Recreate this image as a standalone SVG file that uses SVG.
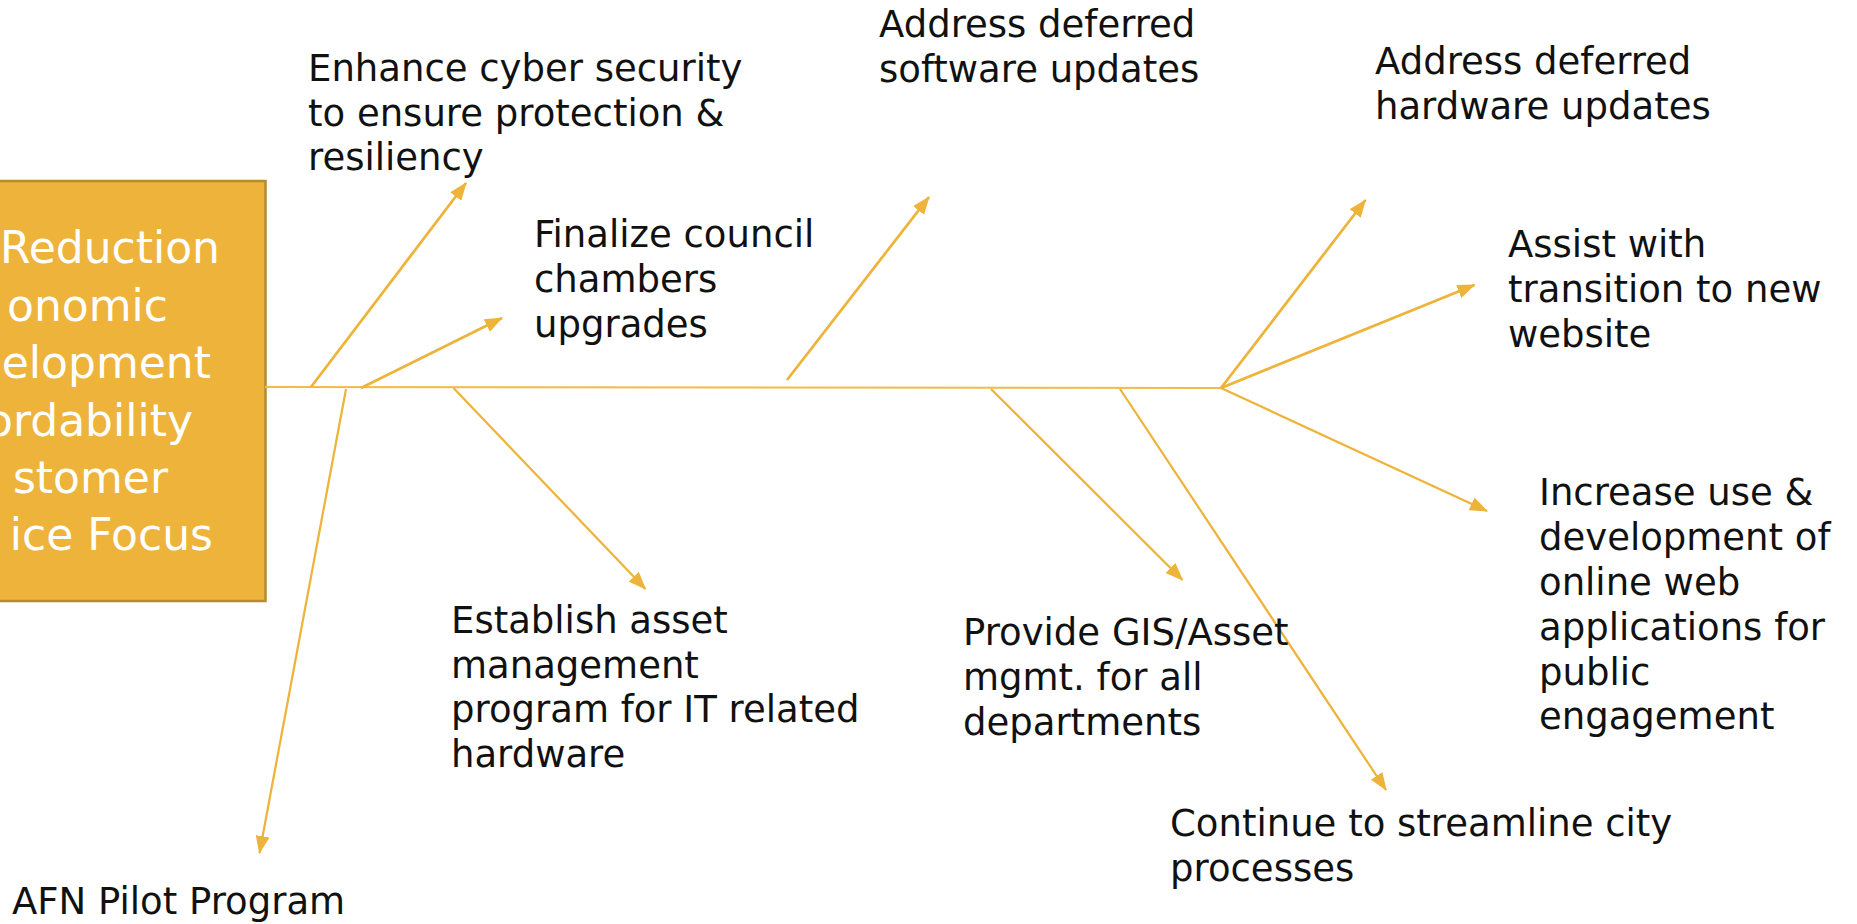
<svg xmlns="http://www.w3.org/2000/svg" width="1857" height="924" viewBox="0 0 1857 924">
  <style>
    .lbl { font-family: "DejaVu Sans", "Liberation Sans", sans-serif; font-size: 37px; fill: #111111; }
    .box-txt { font-family: "DejaVu Sans", "Liberation Sans", sans-serif; font-size: 44px; fill: #ffffff; text-anchor: end; }
    .arr { stroke: #EEB33A; stroke-width: 2.75; fill: none; marker-end: url(#ah); }
    .arr-thin { stroke: #EEB33A; stroke-width: 2.25; fill: none; marker-end: url(#ah); }
    .spine { stroke: #F0BB4A; stroke-width: 2; fill: none; }
  </style>
  <defs>
    <marker id="ah" markerUnits="userSpaceOnUse" markerWidth="18" markerHeight="14" viewBox="0 0 18 14" refX="17" refY="7" orient="auto">
      <path d="M0,0 L18,7 L0,14 z" fill="#EEB33A"/>
    </marker>
  </defs>
  <rect width="1857" height="924" fill="#ffffff"/>

  <g id="head">
    <rect x="-10" y="181" width="275.5" height="420" fill="#EEB33A" stroke="#B58B2E" stroke-width="2.5"/>
    <text class="box-txt" x="220" y="263">Reduction</text>
    <text class="box-txt" x="168" y="320.5">onomic</text>
    <text class="box-txt" x="211" y="378">elopment</text>
    <text class="box-txt" x="193" y="435.5">ordability</text>
    <text class="box-txt" x="168" y="493">stomer</text>
    <text class="box-txt" x="213" y="550">ice Focus</text>
  </g>

  <g id="connectors">
    <line class="spine" x1="265" y1="387" x2="1221" y2="388"/>
    <line class="arr" x1="311" y1="387" x2="466" y2="183"/>
    <line class="arr" x1="361" y1="388" x2="502" y2="318"/>
    <line class="arr" x1="787" y1="380" x2="929" y2="197"/>
    <line class="arr" x1="1221" y1="388" x2="1365.5" y2="200"/>
    <line class="arr" x1="1221" y1="388" x2="1474.5" y2="285"/>
    <line class="arr-thin" x1="1221" y1="388" x2="1487" y2="511"/>
    <line class="arr-thin" x1="346" y1="389" x2="259.5" y2="853"/>
    <line class="arr-thin" x1="453.5" y1="388" x2="645.5" y2="589"/>
    <line class="arr-thin" x1="991" y1="389" x2="1182.5" y2="580"/>
    <line class="arr-thin" x1="1120" y1="389" x2="1386" y2="790"/>
  </g>

  <g id="n-cyber">
    <text class="lbl" x="308" y="81">Enhance cyber security</text>
    <text class="lbl" x="308" y="126">to ensure protection &amp;</text>
    <text class="lbl" x="308" y="170">resiliency</text>
  </g>
  <g id="n-council">
    <text class="lbl" x="534" y="247">Finalize council</text>
    <text class="lbl" x="534" y="292">chambers</text>
    <text class="lbl" x="534" y="337">upgrades</text>
  </g>
  <g id="n-software">
    <text class="lbl" x="879" y="37">Address deferred</text>
    <text class="lbl" x="879" y="82">software updates</text>
  </g>
  <g id="n-hardware">
    <text class="lbl" x="1375" y="74">Address deferred</text>
    <text class="lbl" x="1375" y="119">hardware updates</text>
  </g>
  <g id="n-website">
    <text class="lbl" x="1508" y="257">Assist with</text>
    <text class="lbl" x="1508" y="302">transition to new</text>
    <text class="lbl" x="1508" y="347">website</text>
  </g>
  <g id="n-online">
    <text class="lbl" x="1539" y="505">Increase use &amp;</text>
    <text class="lbl" x="1539" y="550">development of</text>
    <text class="lbl" x="1539" y="595">online web</text>
    <text class="lbl" x="1539" y="640">applications for</text>
    <text class="lbl" x="1539" y="685">public</text>
    <text class="lbl" x="1539" y="729">engagement</text>
  </g>
  <g id="n-afn">
    <text class="lbl" x="12" y="914">AFN Pilot Program</text>
  </g>
  <g id="n-asset">
    <text class="lbl" x="451" y="633">Establish asset</text>
    <text class="lbl" x="451" y="678">management</text>
    <text class="lbl" x="451" y="722">program for IT related</text>
    <text class="lbl" x="451" y="767">hardware</text>
  </g>
  <g id="n-gis">
    <text class="lbl" x="963" y="645">Provide GIS/Asset</text>
    <text class="lbl" x="963" y="690">mgmt. for all</text>
    <text class="lbl" x="963" y="735">departments</text>
  </g>
  <g id="n-continue">
    <text class="lbl" x="1170" y="836">Continue to streamline city</text>
    <text class="lbl" x="1170" y="881">processes</text>
  </g>
</svg>
